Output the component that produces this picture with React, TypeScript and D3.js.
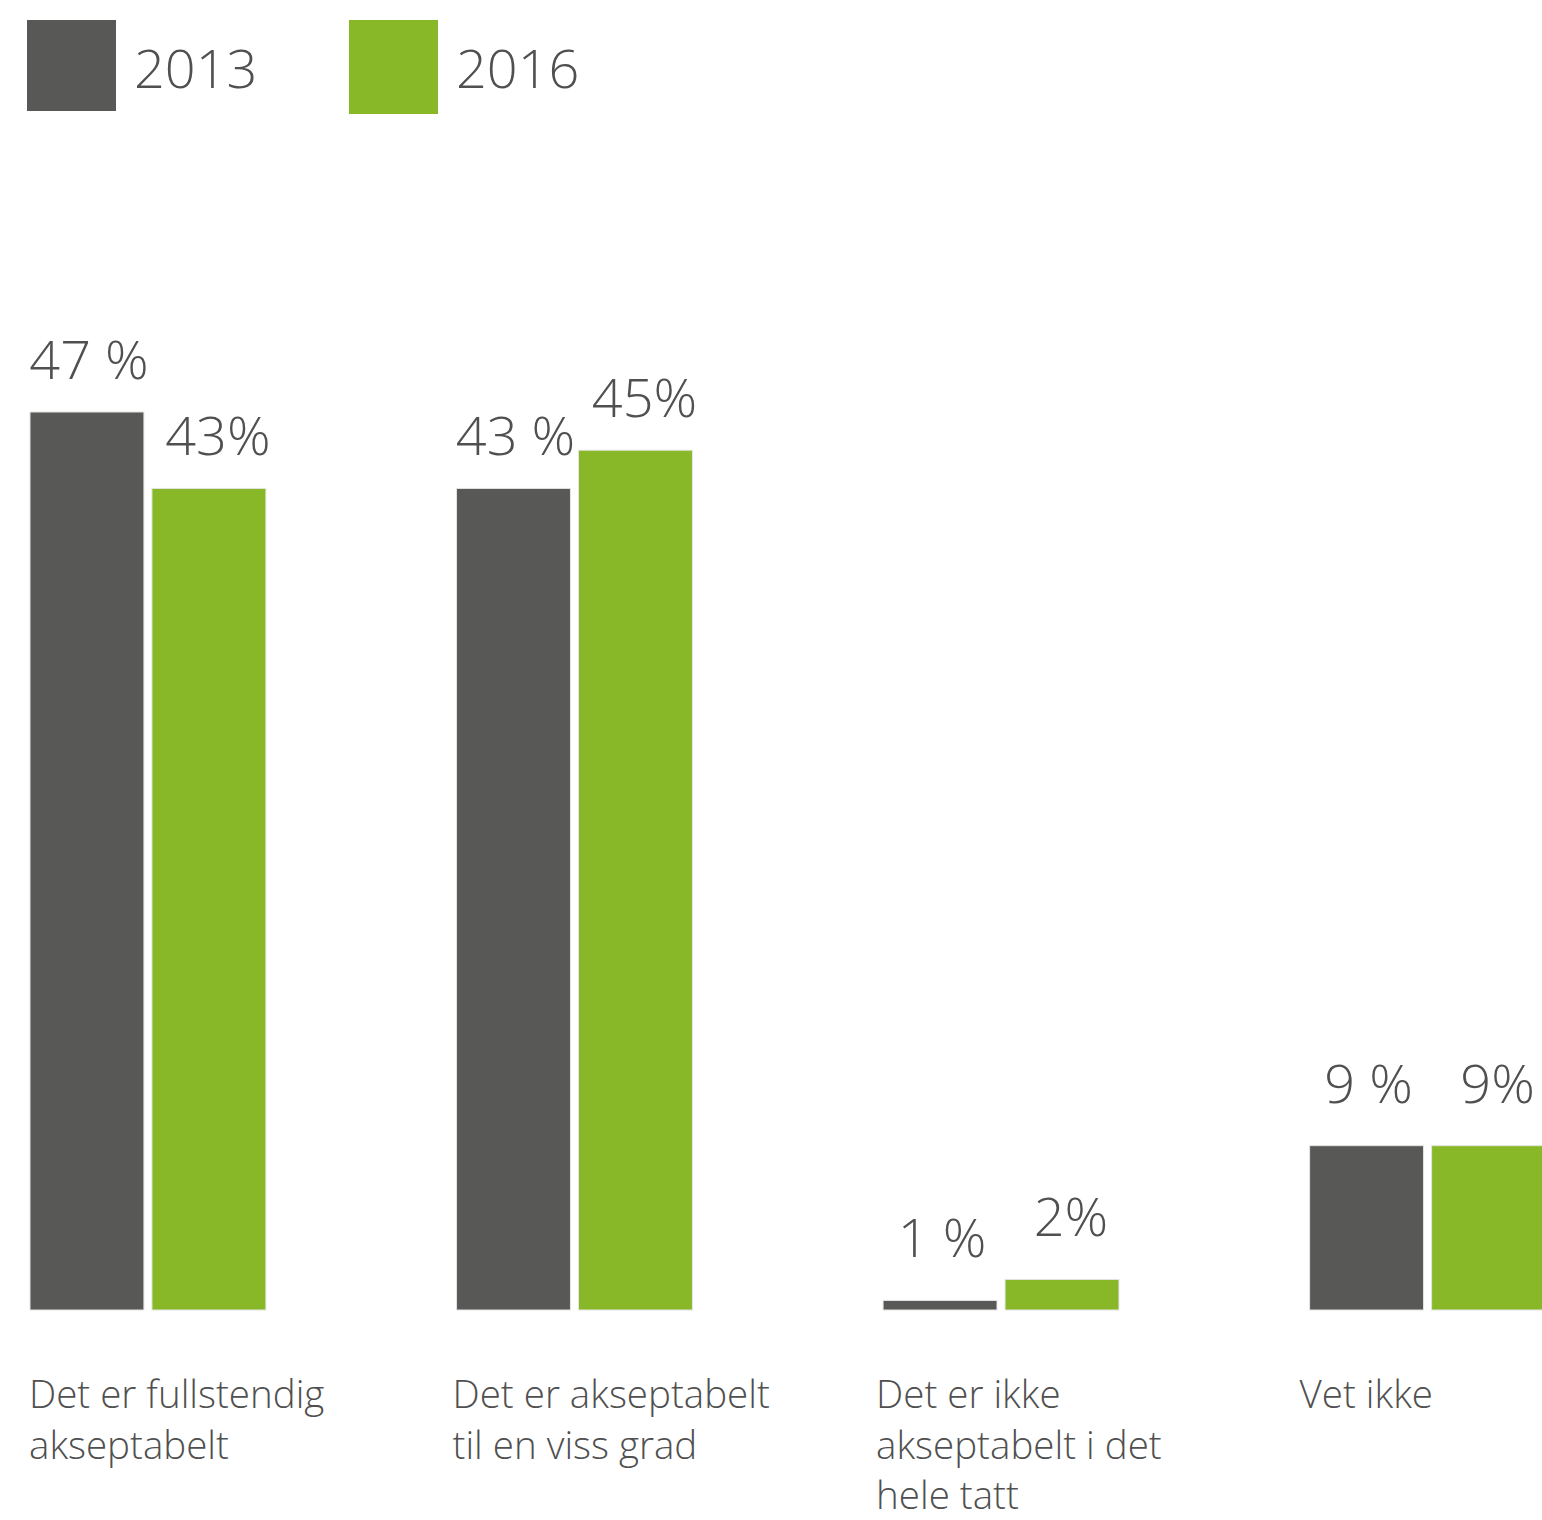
import { useEffect, useRef } from "react";
import * as d3 from "d3";

const categories = [
  ["Det er fullstendig", "akseptabelt"],
  ["Det er akseptabelt", "til en viss grad"],
  ["Det er ikke", "akseptabelt i det", "hele tatt"],
  ["Vet ikke"],
];
const years = ["2013", "2016"];
const values2013 = [47, 43, 0.5, 8.6];
const values2016 = [43, 45, 1.6, 8.6];
const labels2013 = ["47 %", "43 %", "1 %", "9 %"];
const labels2016 = ["43%", "45%", "2%", "9%"];

const width = 1542;
const height = 1520;
const colors: Record<string, string> = { "2013": "#585857", "2016": "#88b827" };
const textColor = "#505050";
const font = "'Open Sans', 'Noto Sans', sans-serif";

export default function App() {
  const ref = useRef<HTMLDivElement | null>(null);

  useEffect(() => {
    if (!ref.current) return;
    document.body.style.margin = "0";

    d3.select(ref.current).selectAll("svg").remove();

    const svg = d3
      .select(ref.current)
      .append("svg")
      .attr("width", width)
      .attr("height", height)
      .style("display", "block")
      .style("font-family", font)
      .style("font-weight", 300);

    const groupIdx = categories.map((_, i) => String(i));
    const x0 = d3.scaleBand(groupIdx, [30, 1545.5]).paddingInner(0.447).paddingOuter(0);
    const x1 = d3.scaleBand(years, [0, x0.bandwidth()]).paddingInner(0.066).paddingOuter(0);
    const y = d3.scaleLinear([0, 47], [1310, 412]);

    // legend
    const legend = svg
      .selectAll("g.legend")
      .data(years)
      .enter()
      .append("g")
      .attr("transform", (_, i) => `translate(${27 + i * 322},20)`);
    legend
      .append("rect")
      .attr("width", 89)
      .attr("height", (_, i) => (i === 0 ? 91 : 94))
      .attr("fill", (d) => colors[d]);
    legend
      .append("text")
      .attr("x", 107)
      .attr("y", 68)
      .attr("font-size", 54)
      .attr("fill", textColor)
      .text((d) => d);

    // bars
    const rows = groupIdx.map((g, i) => ({
      g,
      items: [
        { year: "2013", v: values2013[i], label: labels2013[i] },
        { year: "2016", v: values2016[i], label: labels2016[i] },
      ],
    }));

    const groups = svg
      .selectAll("g.group")
      .data(rows)
      .enter()
      .append("g")
      .attr("transform", (d) => `translate(${x0(d.g)},0)`);

    groups
      .selectAll("rect")
      .data((d) => d.items)
      .enter()
      .append("rect")
      .attr("x", (d) => x1(d.year)!)
      .attr("y", (d) => y(d.v))
      .attr("width", x1.bandwidth())
      .attr("height", (d) => y(0) - y(d.v))
      .attr("fill", (d) => colors[d.year])
      .attr("stroke", "#e4e4e4")
      .attr("stroke-width", 1);

    // value labels
    groups
      .selectAll("text.val")
      .data((d) => d.items)
      .enter()
      .append("text")
      .attr("x", (d) => x1(d.year)! + x1.bandwidth() / 2 + (d.year === "2016" ? 9 : 2))
      .attr("y", (d) => y(d.v) - (d.v > 20 ? 33 : 43))
      .attr("text-anchor", "middle")
      .attr("font-size", 54)
      .attr("fill", textColor)
      .text((d) => d.label);

    // category labels
    svg
      .selectAll("text.cat")
      .data(categories)
      .enter()
      .append("text")
      .attr("x", (_, i) => x0(String(i))! - 1 - i * 3)
      .attr("y", 1408)
      .attr("font-size", 38.5)
      .attr("fill", textColor)
      .selectAll("tspan")
      .data((d) => d)
      .enter()
      .append("tspan")
      .attr("x", function () {
        return (this.parentNode as SVGTextElement).getAttribute("x");
      })
      .attr("dy", (_, j) => (j === 0 ? 0 : 50.5))
      .text((d) => d);
  }, []);

  return <div ref={ref} />;
}
